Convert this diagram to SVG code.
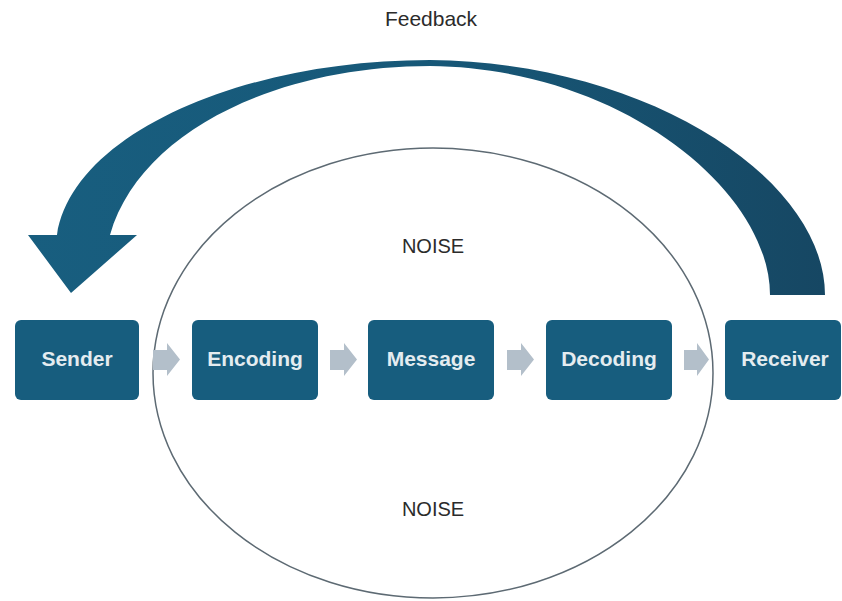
<svg xmlns="http://www.w3.org/2000/svg" width="842" height="601" viewBox="0 0 842 601">
<defs>
<style>
.box{fill:#175d7e;}
.lbl{font-family:"Liberation Sans",Arial,sans-serif;font-size:21px;font-weight:bold;fill:#e4ecf0;text-anchor:middle;}
.txt{font-family:"Liberation Sans",Arial,sans-serif;font-size:20px;fill:#2b2b2b;text-anchor:middle;}
.chev{fill:#b3bfca;}
</style>
<linearGradient id="fb" x1="0" y1="0" x2="1" y2="0">
<stop offset="0" stop-color="#185e7f"/>
<stop offset="0.5" stop-color="#175878"/>
<stop offset="1" stop-color="#164763"/>
</linearGradient>
</defs>
<rect width="842" height="601" fill="#ffffff"/>
<g id="feedback">
<path d="M 825 295 C 825 180 650 62 430 60 C 240 60 72 135 57 235 L 28 235 L 71 293 L 137 235 L 110 235 C 140 130 280 66 430 66 C 620 68 770 190 770 295 Z" fill="url(#fb)"/>
<text class="txt" x="431" y="26" style="font-size:21px">Feedback</text>
</g>
<g id="noise">
<ellipse cx="433" cy="373" rx="280" ry="225" fill="none" stroke="#5d6a73" stroke-width="1.5"/>
<text class="txt" x="433" y="253">NOISE</text>
<text class="txt" x="433" y="516">NOISE</text>
</g>
<g id="connectors">
<path class="chev" d="M153 350 H167 V343 L180 359.5 L167 376 V370 H153 Z"/>
<path class="chev" d="M330 350 H344 V343 L357 359.5 L344 376 V370 H330 Z"/>
<path class="chev" d="M507 350 H521 V343 L534 359.5 L521 376 V370 H507 Z"/>
<path class="chev" d="M684 350 H697 V343 L709 359.5 L697 376 V370 H684 Z"/>
</g>
<g id="sender"><rect class="box" x="15" y="320" width="124" height="80" rx="6"/><text class="lbl" x="77" y="366">Sender</text></g>
<g id="encoding"><rect class="box" x="192" y="320" width="126" height="80" rx="6"/><text class="lbl" x="255" y="366">Encoding</text></g>
<g id="message"><rect class="box" x="368" y="320" width="126" height="80" rx="6"/><text class="lbl" x="431" y="366">Message</text></g>
<g id="decoding"><rect class="box" x="546" y="320" width="126" height="80" rx="6"/><text class="lbl" x="609" y="366">Decoding</text></g>
<g id="receiver"><rect class="box" x="725" y="320" width="116" height="80" rx="6"/><text class="lbl" x="785" y="366">Receiver</text></g>
</svg>
